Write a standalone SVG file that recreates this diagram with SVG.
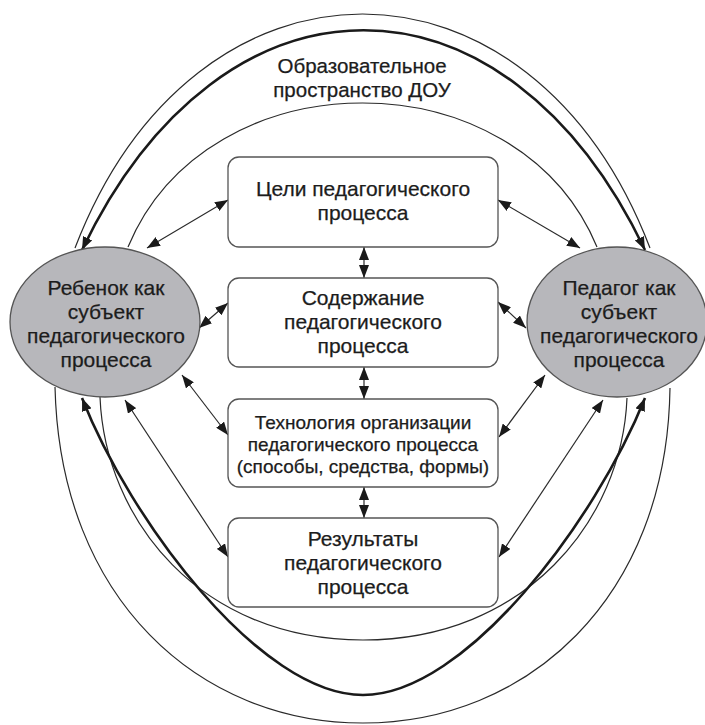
<svg xmlns="http://www.w3.org/2000/svg" width="705" height="725" viewBox="0 0 705 725">
<defs>
<marker id="ah" viewBox="0 0 13 10" refX="13" refY="5" markerWidth="13" markerHeight="10" markerUnits="userSpaceOnUse" orient="auto-start-reverse">
<path d="M0,0 L13,5 L0,10 z" fill="#1a1a1a"/>
</marker>
<style>
.t{font-family:"Liberation Sans",Arial,sans-serif;font-size:21px;fill:#1c1c1c;stroke:#1c1c1c;stroke-width:0.25;text-anchor:middle}
.s{font-size:19px}
.ti{font-size:20.5px}
.box{fill:#fff;stroke:#555;stroke-width:1.3}
.ell{fill:#b7b7bb;stroke:#555;stroke-width:1.3}
.thin{fill:none;stroke:#2a2a2a;stroke-width:1.2}
.thick{fill:none;stroke:#1a1a1a;stroke-width:2.6}
.arr{fill:none;stroke:#2a2a2a;stroke-width:1.2;marker-start:url(#ah);marker-end:url(#ah)}
</style>
</defs>
<rect width="705" height="725" fill="#fff"/>
<g id="connectors">
<path class="thin" d="M75,248 C195,-64 530,-64 650,248"/>
<path class="thick" marker-start="url(#ah)" marker-end="url(#ah)" d="M82,250 C222,-43 505,-43 645,250"/>
<path class="thin" d="M128,247 C208,55 517,55 597,247"/>
<path class="thin" d="M100,397 C105,520 200,640 363,640 S622,520 627,398"/>
<path class="thick" marker-start="url(#ah)" marker-end="url(#ah)" d="M82,398 C130,520 260,695 363,695 S596,520 645,398"/>
<path class="thin" d="M55,387 C60,600 200,723 363,723 S667,600 670,388"/>
<path class="arr" d="M147,248 L228,200"/>
<path class="arr" d="M199,328 L228,303"/>
<path class="arr" d="M182,375 L228,435"/>
<path class="arr" d="M125,400 L228,557"/>
<path class="arr" d="M498,200 L580,248"/>
<path class="arr" d="M498,302 L526,328"/>
<path class="arr" d="M499,437 L545,375"/>
<path class="arr" d="M499,557 L603,400"/>
<path class="arr" d="M364,247 L364,278"/>
<path class="arr" d="M364,367 L364,399"/>
<path class="arr" d="M364,487 L364,518"/>
</g>
<g id="title">
<text class="t ti" x="362" y="73">Образовательное</text>
<text class="t ti" x="362" y="97">пространство ДОУ</text>
</g>
<g id="child">
<ellipse class="ell" cx="105" cy="322" rx="95" ry="75"/>
<text class="t" x="106" y="295">Ребенок как</text>
<text class="t" x="106" y="319">субъект</text>
<text class="t" x="106" y="343">педагогического</text>
<text class="t" x="106" y="367">процесса</text>
</g>
<g id="teacher">
<ellipse class="ell" cx="617" cy="322" rx="90" ry="75"/>
<text class="t" x="619" y="295">Педагог как</text>
<text class="t" x="619" y="319">субъект</text>
<text class="t" x="619" y="343">педагогического</text>
<text class="t" x="619" y="367">процесса</text>
</g>
<g id="goals">
<rect class="box" x="228" y="157" width="270" height="90" rx="11"/>
<text class="t" x="363" y="196">Цели педагогического</text>
<text class="t" x="363" y="220">процесса</text>
</g>
<g id="content">
<rect class="box" x="228" y="278" width="270" height="89" rx="11"/>
<text class="t" x="363" y="305">Содержание</text>
<text class="t" x="363" y="329">педагогического</text>
<text class="t" x="363" y="353">процесса</text>
</g>
<g id="technology">
<rect class="box" x="228" y="399" width="270" height="88" rx="11"/>
<text class="t s" x="363" y="429">Технология организации</text>
<text class="t s" x="363" y="451">педагогического процесса</text>
<text class="t s" x="363" y="473">(способы, средства, формы)</text>
</g>
<g id="results">
<rect class="box" x="228" y="518" width="270" height="89" rx="11"/>
<text class="t" x="363" y="546">Результаты</text>
<text class="t" x="363" y="570">педагогического</text>
<text class="t" x="363" y="594">процесса</text>
</g>
</svg>
